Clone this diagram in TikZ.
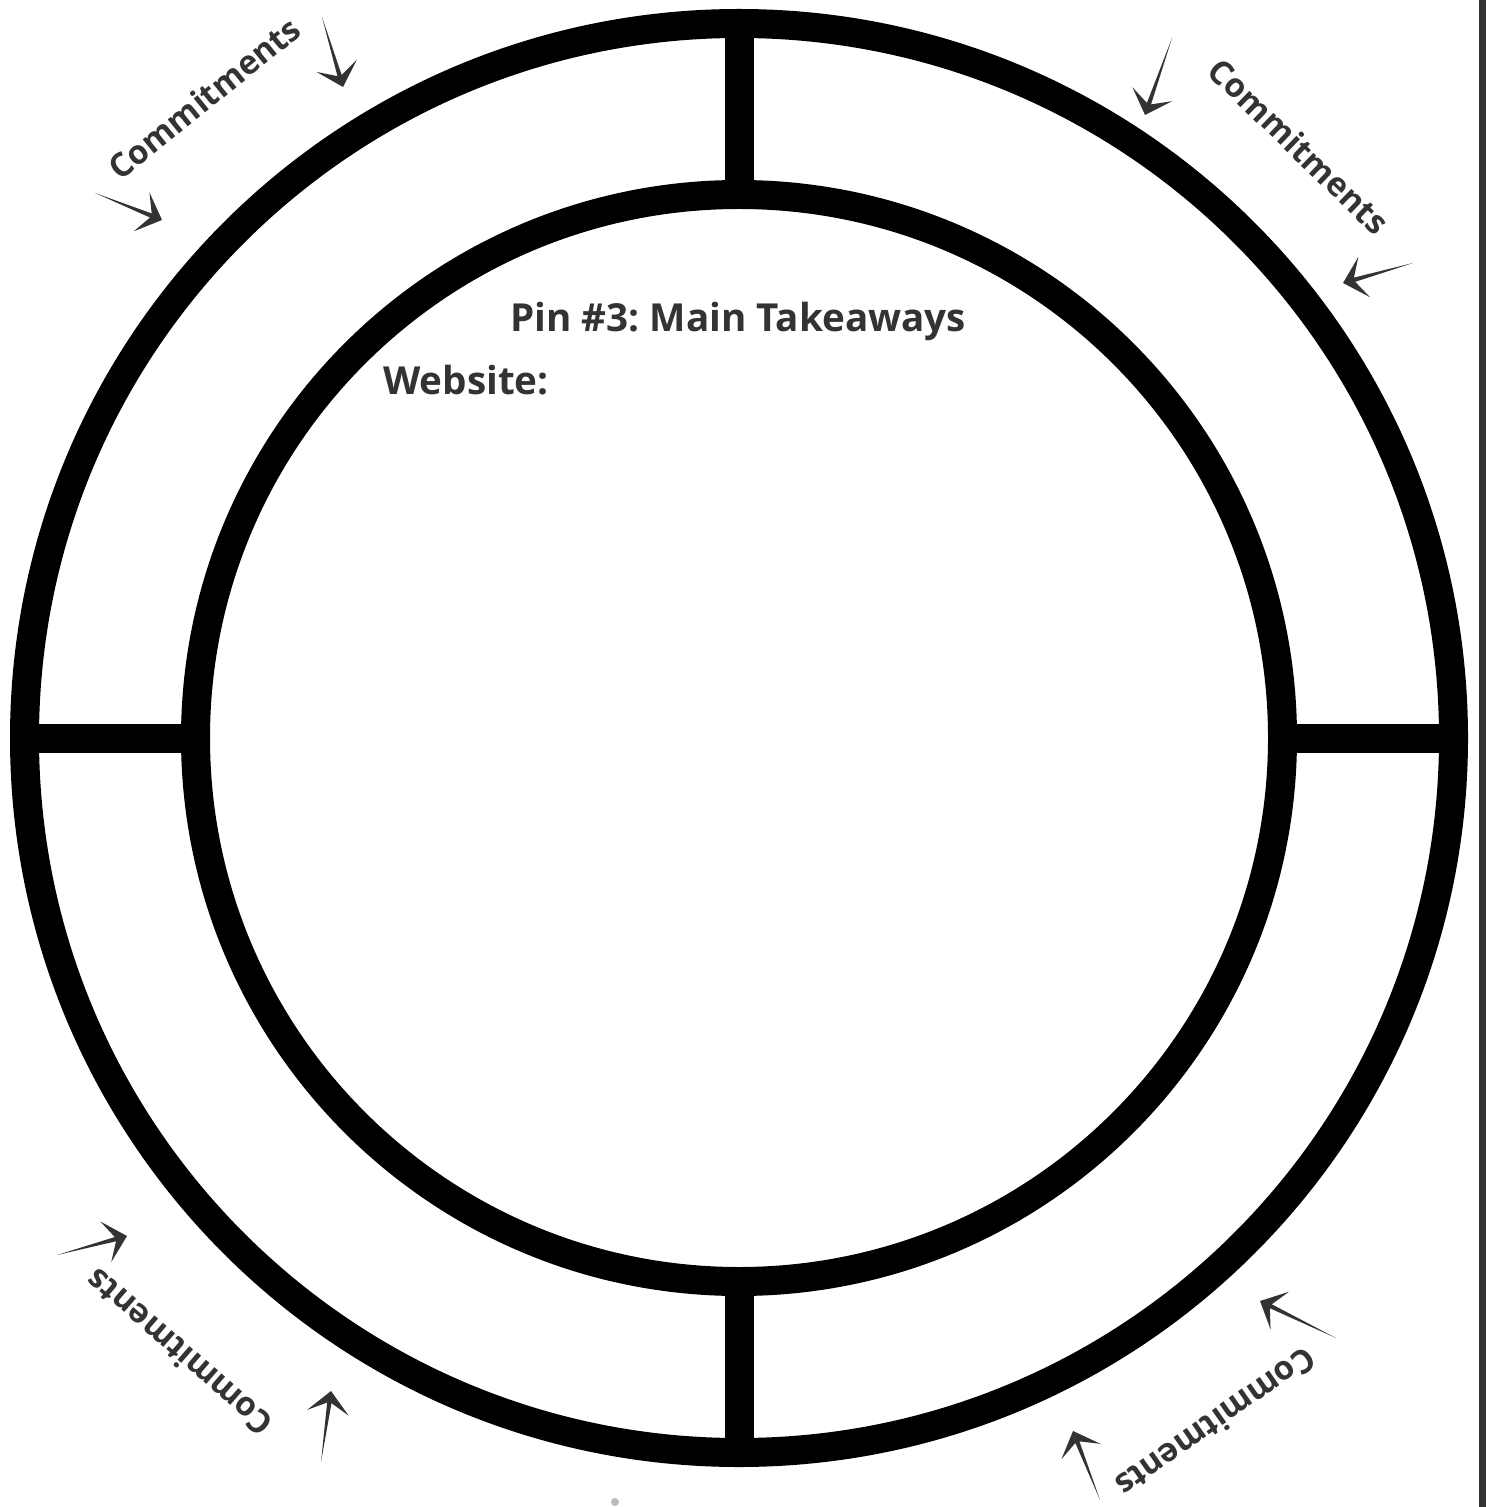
\documentclass[tikz,border=0pt]{standalone}
\usepackage{fontspec}
\setmainfont{Open Sans}
\usetikzlibrary{calc}
\definecolor{ink}{HTML}{333333}
\definecolor{dotgrey}{HTML}{BBBBBB}
\newcommand{\cmarrow}[2]{%
  \path ($(#2)!11pt!(#1)$) coordinate (hb) ($(#2)!6pt!(#1)$) coordinate (hn);
  \fill[ink] (#1) -- ($(hn)!1.1pt!90:(#2)$) -- ($(hb)!10.5pt!90:(#2)$) -- (#2)
    -- ($(hb)!10.5pt!-90:(#2)$) -- ($(hn)!1.1pt!-90:(#2)$) -- cycle;
}
\frenchspacing
\begin{document}
\begin{tikzpicture}[x=0.5pt,y=-0.5pt,
  ring/.style={circle,draw=black,line width=14.5pt,inner sep=0,outer sep=0},
  spoke/.style={draw=black,line width=14.5pt},
  title/.style={text=ink,font=\bfseries\fontsize{19.3}{23}\selectfont,inner sep=0,anchor=base west},
  commit/.style={text=ink,font=\bfseries\fontsize{16.5}{20}\selectfont,inner sep=0}]
\useasboundingbox (0,0) rectangle (1486,1507);
\fill[white] (0,0) rectangle (1486,1507);
\fill[ink] (1479,0) rectangle (1486,1507);

\node[ring,minimum size=714.5pt] (outer) at (739,738) {};
\node[ring,minimum size=543.5pt] (inner) at (739,738) {};
\draw[spoke] (outer.north) -- (inner.north);
\draw[spoke] (outer.south) -- (inner.south);
\draw[spoke] (outer.west) -- (inner.west);
\draw[spoke] (outer.east) -- (inner.east);

\node[title] (pin) at (510,332) {Pin \#3: Main Takeaways};
\node[title] (web) at (383,395) {Website:};

\node[commit,rotate=39] (c1) at (204,98) {Commitments};
\node[commit,rotate=-44] (c2) at (1299,146) {Commitments};
\node[commit,rotate=139] (c3) at (179,1353) {Commitments};
\node[commit,rotate=215] (c4) at (1216,1423) {Commitments};

\coordinate (a1t) at (322,17);   \coordinate (a1h) at (343,87);
\coordinate (a2t) at (95,193);   \coordinate (a2h) at (162,220);
\coordinate (a3t) at (1172,38);  \coordinate (a3h) at (1145,115);
\coordinate (a4t) at (1413,263); \coordinate (a4h) at (1343,283);
\coordinate (a5t) at (57,1255);  \coordinate (a5h) at (127,1236);
\coordinate (a6t) at (321,1462); \coordinate (a6h) at (331,1391);
\coordinate (a7t) at (1336,1338);\coordinate (a7h) at (1260,1301);
\coordinate (a8t) at (1100,1500);\coordinate (a8h) at (1073,1431);
\cmarrow{a1t}{a1h}
\cmarrow{a2t}{a2h}
\cmarrow{a3t}{a3h}
\cmarrow{a4t}{a4h}
\cmarrow{a5t}{a5h}
\cmarrow{a6t}{a6h}
\cmarrow{a7t}{a7h}
\cmarrow{a8t}{a8h}

\fill[dotgrey] (615,1502) circle (4);
\end{tikzpicture}
\end{document}
